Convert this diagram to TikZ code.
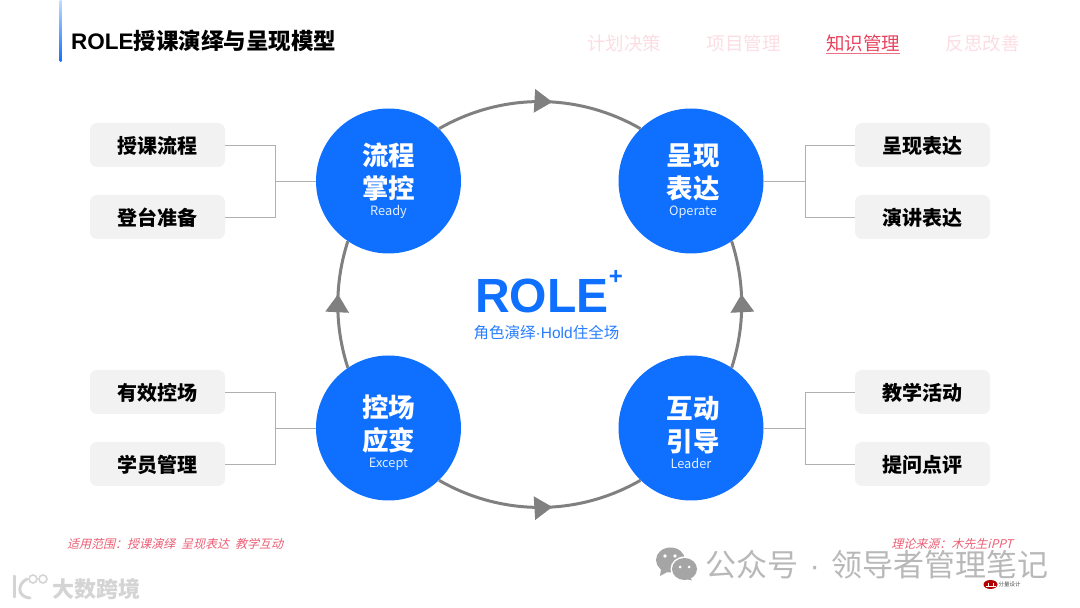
\documentclass[tikz,border=0pt]{standalone}
\usepackage{fontspec}
\setmainfont{Noto Sans CJK SC}
\newfontfamily\romanFont{Liberation Sans}
\newfontfamily\slantFont[FakeSlant=0.25]{Noto Sans CJK SC}
\usepackage{tikz}
\usetikzlibrary{arrows.meta, decorations.markings, positioning}
\definecolor{roleblue}{HTML}{0F6FFF}
\definecolor{ringgray}{HTML}{808080}
\definecolor{boxgray}{HTML}{F2F2F2}
\definecolor{linegray}{HTML}{B0B0B0}
\definecolor{tabred}{HTML}{E8415C}
\definecolor{tabpale}{HTML}{FBDDE3}
\definecolor{markgray}{HTML}{B8B8B8}
\tikzset{
  stage/.style={circle, fill=roleblue, text=white, minimum size=145pt, inner sep=0pt, align=center,
    font=\fontsize{26.5}{33}\selectfont\bfseries},
  topic/.style={rounded corners=7pt, fill=boxgray, minimum width=135pt, minimum height=44pt, inner sep=0pt,
    text height=20pt, text depth=2pt, font=\fontsize{20}{24}\selectfont\bfseries},
  tab/.style={inner sep=0pt, text=tabpale, font=\fontsize{18.5}{22}\selectfont},
  note/.style={inner sep=0pt, text=tabred!85, font=\fontsize{12}{14}\slantFont},
  branch/.style={linegray, line width=0.9pt},
  ring/.style={ringgray, line width=3pt, postaction={decorate},
    decoration={markings, mark=at position #1 with {\arrow[ringgray]{Triangle[length=18pt, width=23pt]}}}},
  ring/.default=0.56
}
\newcommand{\stagetext}[3]{#1\\#2\\[-16pt]{\fontsize{12.8}{14}\selectfont\mdseries\color{white!88!roleblue} #3}}
\begin{document}
\begin{tikzpicture}[x=1pt, y=1pt]
        \useasboundingbox (0, 0) rectangle (1080, 608);

        % Title
        \shade[top color=roleblue!25, bottom color=roleblue, rounded corners=1.5pt] (59, 608) rectangle (62.5, 546);
        \node[inner sep=0pt, anchor=west, font=\fontsize{22.5}{26}\selectfont\bfseries] (title) at (71, 567.5) {{\romanFont ROLE}授课演绎与呈现模型};

        % Tabs
        \node[tab] (plan) at (624, 565) {计划决策};
        \node[tab] (project) at (743.5, 565) {项目管理};
        \node[tab, text=tabred] (knowledge) at (863, 565) {知识管理};
        \node[tab] (reflect) at (982.5, 565) {反思改善};
        \draw[tabred!75, line width=0.8pt] (826, 554.5) -- (899.5, 554.5);

        % Stages
        \node[stage] (ready) at (388.5, 427) {\stagetext{流程}{掌控}{Ready}};
        \node[stage] (operate) at (691, 427) {\stagetext{\hspace*{4pt}呈现}{\hspace*{4pt}表达}{\hspace*{4pt}Operate}};
        \node[stage] (except) at (388.5, 180) {\stagetext{\rule{0pt}{31pt}控场}{应变}{Except}};
        \node[stage] (leader) at (691, 180) {\stagetext{\rule{0pt}{31pt}\hspace*{4pt}互动}{\hspace*{4pt}引导}{Leader}};

        % Ring
        \draw[ring] (ready.46) to[out=30, in=150, looseness=0.92] (operate.134);
        \draw[ring] (except.-46) to[out=-30, in=-150, looseness=0.92] (leader.-134);
        \draw[ring=0.58] (except.124) to[out=108, in=-108, looseness=0.88] (ready.-124);
        \draw[ring=0.58] (leader.56) to[out=72, in=-72, looseness=0.88] (operate.-56);

        % Centre
        \node[inner sep=0pt, text=roleblue, font=\fontsize{48}{50}\romanFont\bfseries] (role) at (542, 312) {ROLE};
        \node[inner sep=0pt, text=roleblue, font=\fontsize{24}{26}\romanFont\bfseries] (plus) at (616, 331) {+};
        \node[inner sep=0pt, text=roleblue!90, font=\fontsize{15.5}{18}\selectfont] (slogan) at (546.5, 275) {角色演绎{\romanFont ·Hold}住全场};

        % Topics
        \node[topic] (flow) at (157.5, 463) {授课流程};
        \node[topic] (prep) at (157.5, 391) {登台准备};
        \node[topic] (show) at (922.5, 463) {呈现表达};
        \node[topic] (speech) at (922.5, 391) {演讲表达};
        \node[topic] (control) at (157.5, 216) {有效控场};
        \node[topic] (learner) at (157.5, 144) {学员管理};
        \node[topic] (activity) at (922.5, 216) {教学活动};
        \node[topic] (question) at (922.5, 144) {提问点评};

        % Branches
        \coordinate (readyfork) at (275, 427);
        \coordinate (operatefork) at (805, 427);
        \coordinate (exceptfork) at (275, 180);
        \coordinate (leaderfork) at (805, 180);
        \draw[branch] (flow) -| (readyfork) -- (ready);
        \draw[branch] (prep) -| (readyfork);
        \draw[branch] (show) -| (operatefork) -- (operate);
        \draw[branch] (speech) -| (operatefork);
        \draw[branch] (control) -| (exceptfork) -- (except);
        \draw[branch] (learner) -| (exceptfork);
        \draw[branch] (activity) -| (leaderfork) -- (leader);
        \draw[branch] (question) -| (leaderfork);

        % Notes
        \node[note, anchor=west] (scope) at (67, 64) {适用范围：授课演绎\hspace{0.5em}呈现表达\hspace{0.5em}教学互动};
        \node[note, anchor=east] (source) at (1013, 64) {理论来源：木先生iPPT};

        % Marks
        \node[inner sep=0pt, anchor=west, text=markgray, font=\fontsize{31}{33}\selectfont] (account) at (705, 43) {公众号\hspace{11.5pt}{\romanFont ·}\hspace{11.5pt}领导者管理笔记};
        \node[inner sep=0pt, anchor=west, text=markgray!60, font=\fontsize{22}{24}\selectfont\bfseries] (brand) at (52, 19) {大数跨境};

        % WeChat bubbles
        \fill[markgray!90!black] (670.5, 48) ellipse (14.5pt and 12.5pt);
        \fill[markgray!90!black] (661, 39) -- (660, 32) -- (669, 37) -- cycle;
        \fill[white] (684.5, 39) ellipse (14pt and 12.5pt);
        \fill[markgray!90!black] (684.5, 39) ellipse (12.5pt and 11pt);
        \fill[markgray!90!black] (690, 31) -- (692, 27.5) -- (684, 29.5) -- cycle;
        \fill[white] (665, 52) circle (1.8pt) (675, 52) circle (1.8pt) (680, 41) circle (1.5pt) (689, 41) circle (1.5pt);

        % Small logos
        \draw[markgray!60, line width=3pt, line cap=round] (14, 32) -- (14, 11);
        \draw[markgray!60, line width=3pt, line cap=round] (27, 29) .. controls (17, 24) and (17, 11) .. (30, 10);
        \draw[markgray!60, line width=1.6pt] (33, 29) circle (4pt) (43, 29) circle (4pt);
        \fill[red!70!black] (990.5, 23.5) ellipse (7pt and 4.5pt);
        \draw[white, line width=0.5pt] (985.5, 22) -- (995.5, 22) (988, 20.5) -- (988, 25) (993, 20.5) -- (993, 25);
        \node[inner sep=0pt, anchor=west, text=black!70, font=\fontsize{5.5}{6}\selectfont] (studio) at (998.5, 24) {分量设计};
\end{tikzpicture}
\end{document}
